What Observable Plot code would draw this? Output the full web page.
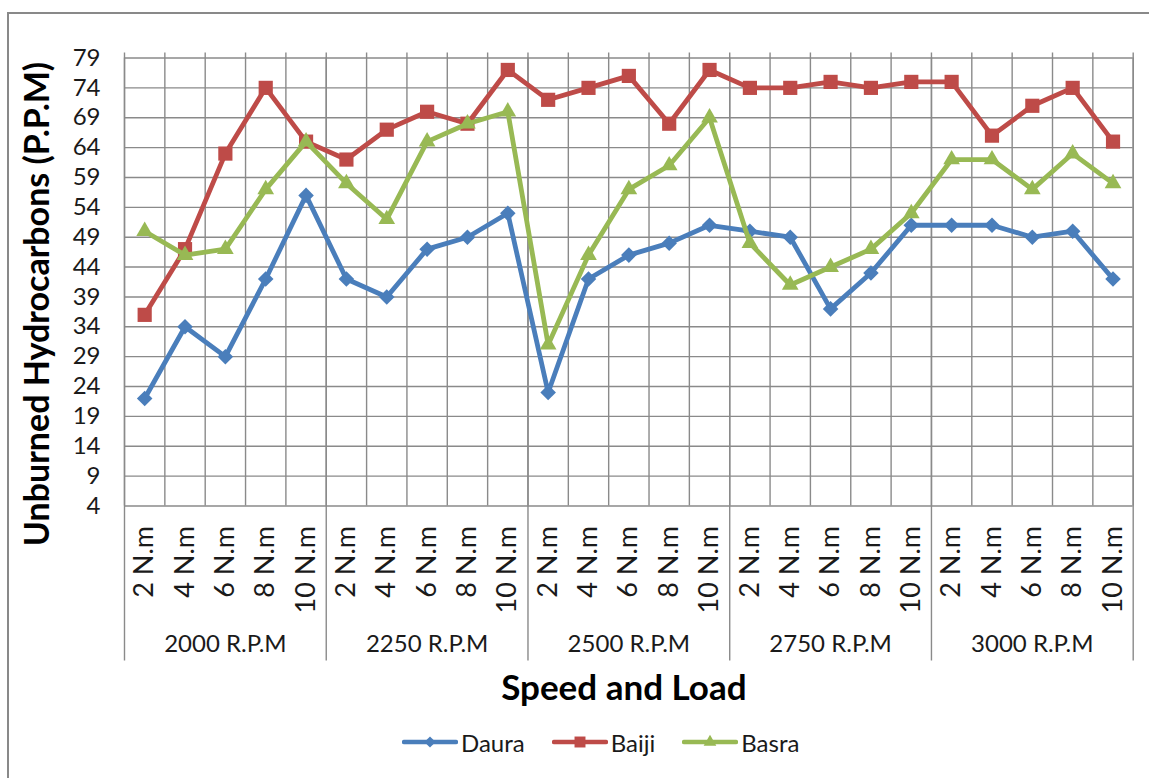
<!DOCTYPE html>
<html><head><meta charset="utf-8">
<script src="https://cdn.jsdelivr.net/npm/d3@7"></script>
<script src="https://cdn.jsdelivr.net/npm/@observablehq/plot@0.6"></script>
<style>
body{margin:0;background:#fff;font-family:Lato,sans-serif;}
#wrap{position:relative;width:1149px;height:778px;overflow:hidden;background:#fff;}
#frame{position:absolute;left:7px;top:12px;width:1300px;height:900px;border-left:2px solid #898989;border-top:2px solid #898989;}
#chart{position:absolute;left:0;top:0;}
#legend{position:absolute;left:402px;top:728px;height:28px;display:flex;align-items:center;gap:27px;font-size:24px;color:#1a1a1a;}
.item{display:flex;align-items:center;gap:3px;}
.item svg{display:block;}
</style></head>
<body><div id="wrap"><div id="frame"></div><div id="chart"></div><div id="legend"></div></div>
<script>
// ---- data ----
const speeds = ["2000 R.P.M","2250 R.P.M","2500 R.P.M","2750 R.P.M","3000 R.P.M"];
const loads = ["2 N.m","4 N.m","6 N.m","8 N.m","10 N.m"];
const seriesNames = ["Daura","Baiji","Basra"];
const seriesColors = ["#4A7EBB","#BE4B48","#98B954"];
const seriesSymbols = ["diamond2","square","triangle"];
const daura = [22,34,29,42,56, 42,39,47,49,53, 23,42,46,48,51, 50,49,37,43,51, 51,51,49,50,42];
const baiji = [36,47,63,74,65, 62,67,70,68,77, 72,74,76,68,77, 74,74,75,74,75, 75,66,71,74,65];
const basra = [50,46,47,57,65, 58,52,65,68,70, 31,46,57,61,69, 48,41,44,47,53, 62,62,57,63,58];
const yTicks = [4,9,14,19,24,29,34,39,44,49,54,59,64,69,74,79];
const yTitle = "Unburned Hydrocarbons (P.P.M)";
const xTitle = "Speed and Load";

// ---- derived tables ----
const cats = [];
speeds.forEach((s, si) => loads.forEach((l, li) => cats.push({idx: si*loads.length + li, speed: s, load: l})));
cats.forEach(c => c.pos = c.idx + 0.5);
const nCats = cats.length;
const boundaries = d3.range(nCats + 1);
const groupEdges = d3.range(0, nCats + 1, loads.length);
const groups = speeds.map((s, i) => ({speed: s, pos: i*loads.length + loads.length/2}));
const valuesBySeries = [daura, baiji, basra];
const series = seriesNames.map((name, k) => cats.map((c, i) => ({series: name, pos: c.pos, value: valuesBySeries[k][i]})));

const W = 1149, H = 718;
const grid = "#8a8a8a";
const symR = {diamond2: 7.0, square: 8.0, triangle: 6.2};

const marks = [
  Plot.ruleY(yTicks, {y: d => d, stroke: grid, strokeWidth: 1.4}),
  Plot.ruleX(boundaries, {x: d => d, stroke: grid, strokeWidth: 1.4, insetTop: -5}),
  Plot.ruleX(groupEdges, {x: d => d, stroke: grid, strokeWidth: 1.4, insetBottom: -155}),
  Plot.text(yTicks, {frameAnchor: "left", y: d => d, text: d => String(d), textAnchor: "end", dx: -24, fontSize: 24, fill: "#1a1a1a"}),
  Plot.text(cats, {x: "pos", y: () => yTicks[0], text: "load", rotate: -90, textAnchor: "end", dy: 20, fontSize: 27, fill: "#1a1a1a"}),
  Plot.text(groups, {x: "pos", y: () => yTicks[0], text: "speed", dy: 138.5, fontSize: 24, fill: "#1a1a1a"}),
  Plot.text([xTitle], {frameAnchor: "bottom", text: d => d, textAnchor: "middle", lineAnchor: "middle", dx: -5, dy: 183, fontSize: 35, fontWeight: "bold", fill: "#000"}),
  Plot.text([yTitle], {frameAnchor: "left", text: d => d, textAnchor: "middle", lineAnchor: "middle", rotate: -90, dx: -86, dy: 22, fontSize: 34, fontWeight: "bold", fill: "#000"})
];
series.forEach((data, k) => {
  marks.push(Plot.line(data, {x: "pos", y: "value", stroke: seriesColors[k], strokeWidth: 4.8, strokeLinejoin: "round", strokeLinecap: "round"}));
  marks.push(Plot.dot(data, {x: "pos", y: "value", symbol: () => seriesSymbols[k], r: symR[seriesSymbols[k]], fill: seriesColors[k], stroke: "none"}));
});

const chart = Plot.plot({
  width: W, height: H,
  marginLeft: 124, marginRight: 16.3, marginTop: 57.5, marginBottom: H - 505.5,
  x: {domain: [0, nCats], axis: null},
  y: {domain: [yTicks[0], yTicks[yTicks.length-1]], axis: null},
  symbol: {type: "identity"},
  style: {fontFamily: "Lato, sans-serif", background: "transparent", overflow: "visible"},
  marks
});
document.getElementById("chart").appendChild(chart);

// ---- legend ----
const legend = d3.select("#legend");
seriesNames.forEach((name, k) => {
  const item = legend.append("div").attr("class", "item");
  const svg = item.append("svg").attr("width", 56).attr("height", 20);
  svg.append("line").attr("x1", 2).attr("x2", 54).attr("y1", 10).attr("y2", 10)
    .attr("stroke", seriesColors[k]).attr("stroke-width", 4.5).attr("stroke-linecap", "round");
  const symType = {diamond2: d3.symbolDiamond2, square: d3.symbolSquare, triangle: d3.symbolTriangle}[seriesSymbols[k]];
  const size = {diamond2: 80, square: 120, triangle: 70}[seriesSymbols[k]];
  svg.append("path").attr("transform", "translate(28,10)").attr("d", d3.symbol(symType, size)()).attr("fill", seriesColors[k]);
  item.append("span").text(name);
});
</script>
</body></html>
